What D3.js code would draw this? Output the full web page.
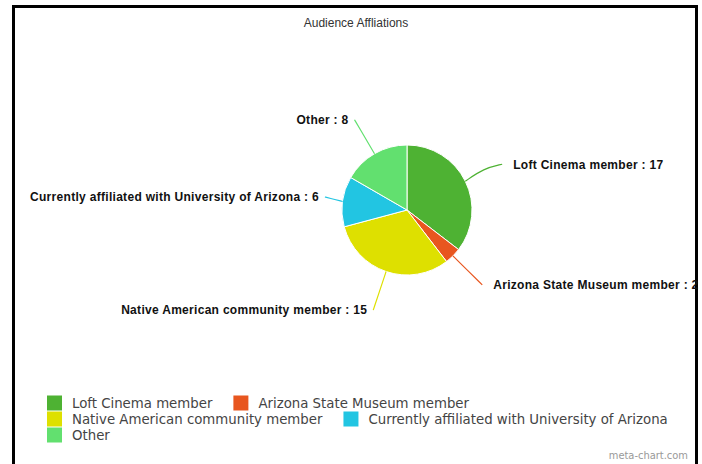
<!DOCTYPE html>
<html>
<head>
<meta charset="utf-8">
<script src="https://cdn.jsdelivr.net/npm/d3@7"></script>
<style>
  body { margin: 0; background: #fff; }
  svg { display: block; }
</style>
</head>
<body>
<svg id="chart" width="702" height="464"></svg>
<script>
const categories = ["Loft Cinema member", "Arizona State Museum member", "Native American community member", "Currently affiliated with University of Arizona", "Other"];
const values = [17, 2, 15, 6, 8];
const colors = ["#4eb233", "#e8561f", "#dee000", "#22c5e2", "#62e06f"];
const title = "Audience Affliations";

const width = 702, height = 464;
const cx = 407, cy = 210, outerRadius = 65;
const pieDistance = 40; // label distance from pie edge

const svg = d3.select("#chart");

// frame
svg.append("path")
    .attr("d", `M13.5,${height + 5}V6.5H696.5V${height + 5}`)
    .attr("fill", "none")
    .attr("stroke", "#000")
    .attr("stroke-width", 3);

svg.append("text")
    .attr("x", 356)
    .attr("y", 27)
    .attr("text-anchor", "middle")
    .style("font-family", "Liberation Sans, Arial, sans-serif")
    .style("font-size", "12px")
    .attr("fill", "#333")
    .text(title);

const data = categories.map((c, i) => ({name: c, value: values[i], color: colors[i]}));

const pie = d3.pie().sort(null).value(d => d.value);
const arcs = pie(data);
const arc = d3.arc().innerRadius(0).outerRadius(outerRadius);

const g = svg.append("g").attr("transform", `translate(${cx},${cy})`);

g.selectAll("path.slice")
    .data(arcs)
    .enter().append("path")
    .attr("class", "slice")
    .attr("d", arc)
    .attr("fill", d => d.data.color)
    .attr("stroke", "#fff")
    .attr("stroke-width", 1);

// outer labels, d3pie-ish placement
const labels = svg.append("g");
const line = d3.line().x(d => d[0]).y(d => d[1]).curve(d3.curveBasis);

arcs.forEach(d => {
    const a = (d.startAngle + d.endAngle) / 2;
    const deg = a * 180 / Math.PI;
    const edge = [cx + outerRadius * Math.sin(a), cy - outerRadius * Math.cos(a)];
    const r2 = outerRadius + pieDistance;
    const p = [cx + r2 * Math.sin(a), cy - r2 * Math.cos(a)];

    const t = labels.append("text")
        .style("font-family", "Liberation Sans, Arial, sans-serif")
        .style("font-size", "12px")
        .style("font-weight", "bold")
        .style("letter-spacing", "0.3px")
        .attr("fill", "#111")
        .text(d.data.name + " : " + d.data.value);
    const w = t.node().getComputedTextLength();
    const h = 13;
    let lx, ly = p[1] + 5;
    let pts;
    if (deg <= 180) {
        lx = p[0] + 12;
        const x3 = lx - 11, y3 = ly - h / 3;
        const x2 = deg < 90 ? x3 - (x3 - edge[0]) / 2 : edge[0] + (x3 - edge[0]) / 4;
        const y2 = deg < 90 ? y3 + (edge[1] - y3) / 4 : edge[1] + (y3 - edge[1]) / 4;
        pts = [edge, [x2, y2], [x3, y3]];
    } else {
        lx = Math.max(30, p[0] - w - 6);
        const x3 = lx + w + 6, y3 = ly - h / 3;
        const x2 = deg < 270 ? edge[0] - (edge[0] - x3) / 4 : x3 + (edge[0] - x3) / 4;
        const y2 = deg < 270 ? edge[1] + (y3 - edge[1]) / 4 : y3 + (edge[1] - y3) / 4;
        pts = [edge, [x2, y2], [x3, y3]];
    }
    t.attr("x", lx).attr("y", ly);
    labels.insert("path", "text")
        .attr("d", line(pts))
        .attr("fill", "none")
        .attr("stroke", d.data.color)
        .attr("stroke-width", 1.2);
});

// legend, flowing left to right
const legend = svg.append("g");
const legX = 47, legMax = 692, rowH = 16, gap = 21;
let x = legX, y = 403;
data.forEach(d => {
    const item = legend.append("g");
    const t = item.append("text")
        .attr("x", 25)
        .attr("y", 5)
        .style("font-family", "DejaVu Sans Condensed, DejaVu Sans, sans-serif")
        .style("font-size", "14.8px")
        .attr("fill", "#444")
        .text(d.name);
    const w = 25 + t.node().getComputedTextLength();
    if (x > legX && x + w > legMax) { x = legX; y += rowH; }
    item.append("rect")
        .attr("x", 0).attr("y", -7.5)
        .attr("width", 15).attr("height", 15)
        .attr("fill", d.color);
    item.attr("transform", `translate(${x},${y})`);
    x += w + gap;
});

svg.append("text")
    .attr("x", 688)
    .attr("y", 459)
    .attr("text-anchor", "end")
    .style("font-family", "DejaVu Sans Condensed, DejaVu Sans, sans-serif")
    .style("font-size", "11px")
    .attr("fill", "#999")
    .text("meta-chart.com");
</script>
</body>
</html>
